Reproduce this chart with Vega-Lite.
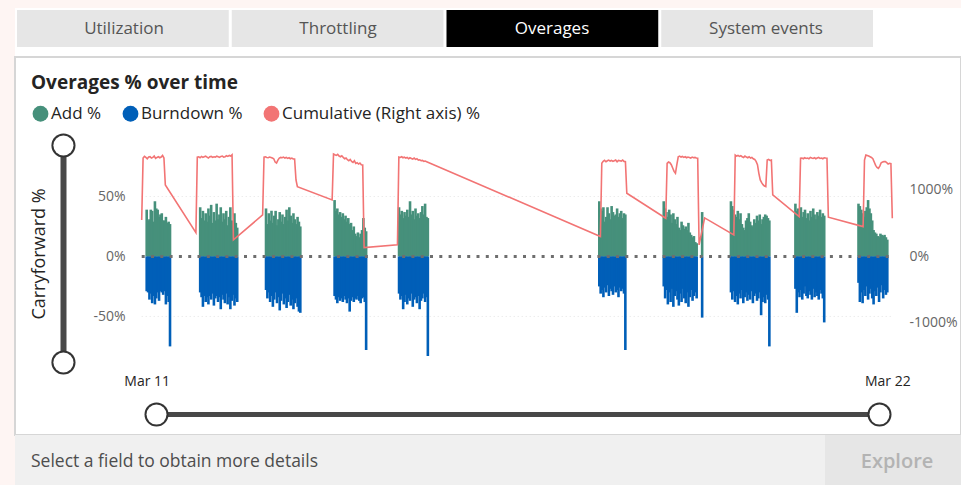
{
"$schema": "https://vega.github.io/schema/vega-lite/v6.json",
"background": "#fef5f3",
"padding": {"left": 15, "top": 8, "right": 0, "bottom": 0},
"config": {"view": {"stroke": null}, "font": "Open Sans"},
"width": 946, "height": 378,
"view": {"fill": "#ffffff", "stroke": "#d6d6d6", "strokeWidth": 2},
"resolve": {"scale": {"x": "independent", "y": "independent"}, "axis": {"x": "independent", "y": "independent"}},
"datasets": {"ov": [
{"t":"2019-03-11T10:30","Add %":39,"Burndown %":-29,"Cumulative %":549},
{"t":"2019-03-11T11:00","Add %":30,"Burndown %":-30,"Cumulative %":1480},
{"t":"2019-03-11T11:30","Add %":31,"Burndown %":-36,"Cumulative %":1505},
{"t":"2019-03-11T12:00","Add %":39,"Burndown %":-31,"Cumulative %":1490},
{"t":"2019-03-11T12:30","Add %":38,"Burndown %":-39,"Cumulative %":1470},
{"t":"2019-03-11T13:00","Add %":29,"Burndown %":-33,"Cumulative %":1495},
{"t":"2019-03-11T13:30","Add %":46,"Burndown %":-40,"Cumulative %":1500},
{"t":"2019-03-11T14:00","Add %":40,"Burndown %":-35,"Cumulative %":1480},
{"t":"2019-03-11T14:30","Add %":39,"Burndown %":-30,"Cumulative %":1490},
{"t":"2019-03-11T15:00","Add %":33,"Burndown %":-37,"Cumulative %":1510},
{"t":"2019-03-11T15:30","Add %":35,"Burndown %":-29,"Cumulative %":1475},
{"t":"2019-03-11T16:00","Add %":36,"Burndown %":-30,"Cumulative %":1490},
{"t":"2019-03-11T16:30","Add %":30,"Burndown %":-32,"Cumulative %":1500},
{"t":"2019-03-11T17:00","Add %":30,"Burndown %":-29,"Cumulative %":1485},
{"t":"2019-03-11T17:30","Add %":33,"Burndown %":-40,"Cumulative %":1495},
{"t":"2019-03-11T18:00","Add %":28,"Burndown %":-33,"Cumulative %":1520},
{"t":"2019-03-11T18:30","Add %":29,"Burndown %":-38,"Cumulative %":1481},
{"t":"2019-03-11T19:00","Add %":27,"Burndown %":-75,"Cumulative %":1075},
{"t":"2019-03-12T06:00","Add %":41,"Burndown %":-30,"Cumulative %":358},
{"t":"2019-03-12T06:30","Add %":32,"Burndown %":-34,"Cumulative %":1495},
{"t":"2019-03-12T07:00","Add %":38,"Burndown %":-42,"Cumulative %":1500},
{"t":"2019-03-12T07:30","Add %":30,"Burndown %":-33,"Cumulative %":1485},
{"t":"2019-03-12T08:00","Add %":36,"Burndown %":-38,"Cumulative %":1505},
{"t":"2019-03-12T08:30","Add %":29,"Burndown %":-34,"Cumulative %":1490},
{"t":"2019-03-12T09:00","Add %":40,"Burndown %":-40,"Cumulative %":1500},
{"t":"2019-03-12T09:30","Add %":34,"Burndown %":-33,"Cumulative %":1510},
{"t":"2019-03-12T10:00","Add %":43,"Burndown %":-36,"Cumulative %":1495},
{"t":"2019-03-12T10:30","Add %":28,"Burndown %":-31,"Cumulative %":1480},
{"t":"2019-03-12T11:00","Add %":37,"Burndown %":-41,"Cumulative %":1500},
{"t":"2019-03-12T11:30","Add %":30,"Burndown %":-35,"Cumulative %":1505},
{"t":"2019-03-12T12:00","Add %":44,"Burndown %":-33,"Cumulative %":1490},
{"t":"2019-03-12T12:30","Add %":31,"Burndown %":-38,"Cumulative %":1500},
{"t":"2019-03-12T13:00","Add %":35,"Burndown %":-34,"Cumulative %":1495},
{"t":"2019-03-12T13:30","Add %":41,"Burndown %":-44,"Cumulative %":1510},
{"t":"2019-03-12T14:00","Add %":29,"Burndown %":-32,"Cumulative %":1500},
{"t":"2019-03-12T14:30","Add %":36,"Burndown %":-36,"Cumulative %":1490},
{"t":"2019-03-12T15:00","Add %":31,"Burndown %":-39,"Cumulative %":1505},
{"t":"2019-03-12T15:30","Add %":38,"Burndown %":-31,"Cumulative %":1510},
{"t":"2019-03-12T16:00","Add %":26,"Burndown %":-40,"Cumulative %":1495},
{"t":"2019-03-12T16:30","Add %":33,"Burndown %":-34,"Cumulative %":1500},
{"t":"2019-03-12T17:00","Add %":41,"Burndown %":-44,"Cumulative %":1515},
{"t":"2019-03-12T17:30","Add %":30,"Burndown %":-37,"Cumulative %":1505},
{"t":"2019-03-12T18:00","Add %":25,"Burndown %":-32,"Cumulative %":1520},
{"t":"2019-03-12T18:30","Add %":36,"Burndown %":-41,"Cumulative %":1510},
{"t":"2019-03-12T19:00","Add %":28,"Burndown %":-35,"Cumulative %":1530},
{"t":"2019-03-12T19:30","Add %":24,"Burndown %":-38,"Cumulative %":248},
{"t":"2019-03-13T06:00","Add %":40,"Burndown %":-28,"Cumulative %":624},
{"t":"2019-03-13T06:30","Add %":27,"Burndown %":-35,"Cumulative %":1495},
{"t":"2019-03-13T07:00","Add %":36,"Burndown %":-30,"Cumulative %":1500},
{"t":"2019-03-13T07:30","Add %":30,"Burndown %":-38,"Cumulative %":1490},
{"t":"2019-03-13T08:00","Add %":38,"Burndown %":-33,"Cumulative %":1485},
{"t":"2019-03-13T08:30","Add %":28,"Burndown %":-42,"Cumulative %":1495},
{"t":"2019-03-13T09:00","Add %":34,"Burndown %":-36,"Cumulative %":1490},
{"t":"2019-03-13T09:30","Add %":38,"Burndown %":-30,"Cumulative %":1480},
{"t":"2019-03-13T10:00","Add %":26,"Burndown %":-39,"Cumulative %":1470},
{"t":"2019-03-13T10:30","Add %":31,"Burndown %":-34,"Cumulative %":1420},
{"t":"2019-03-13T11:00","Add %":37,"Burndown %":-45,"Cumulative %":1406},
{"t":"2019-03-13T11:30","Add %":29,"Burndown %":-37,"Cumulative %":1450},
{"t":"2019-03-13T12:00","Add %":35,"Burndown %":-31,"Cumulative %":1480},
{"t":"2019-03-13T12:30","Add %":27,"Burndown %":-40,"Cumulative %":1490},
{"t":"2019-03-13T13:00","Add %":33,"Burndown %":-35,"Cumulative %":1485},
{"t":"2019-03-13T13:30","Add %":39,"Burndown %":-43,"Cumulative %":1495},
{"t":"2019-03-13T14:00","Add %":30,"Burndown %":-38,"Cumulative %":1480},
{"t":"2019-03-13T14:30","Add %":41,"Burndown %":-32,"Cumulative %":1490},
{"t":"2019-03-13T15:00","Add %":34,"Burndown %":-41,"Cumulative %":1475},
{"t":"2019-03-13T15:30","Add %":28,"Burndown %":-36,"Cumulative %":1485},
{"t":"2019-03-13T16:00","Add %":36,"Burndown %":-44,"Cumulative %":1470},
{"t":"2019-03-13T16:30","Add %":31,"Burndown %":-39,"Cumulative %":1480},
{"t":"2019-03-13T17:00","Add %":27,"Burndown %":-35,"Cumulative %":1466},
{"t":"2019-03-13T17:30","Add %":33,"Burndown %":-42,"Cumulative %":1466},
{"t":"2019-03-13T18:00","Add %":29,"Burndown %":-46,"Cumulative %":1150},
{"t":"2019-03-13T18:30","Add %":25,"Burndown %":-47,"Cumulative %":1050},
{"t":"2019-03-14T07:00","Add %":47,"Burndown %":-33,"Cumulative %":850},
{"t":"2019-03-14T07:30","Add %":38,"Burndown %":-36,"Cumulative %":1541},
{"t":"2019-03-14T08:00","Add %":40,"Burndown %":-39,"Cumulative %":1530},
{"t":"2019-03-14T08:30","Add %":35,"Burndown %":-34,"Cumulative %":1520},
{"t":"2019-03-14T09:00","Add %":37,"Burndown %":-37,"Cumulative %":1535},
{"t":"2019-03-14T09:30","Add %":33,"Burndown %":-35,"Cumulative %":1510},
{"t":"2019-03-14T10:00","Add %":36,"Burndown %":-38,"Cumulative %":1500},
{"t":"2019-03-14T10:30","Add %":31,"Burndown %":-33,"Cumulative %":1515},
{"t":"2019-03-14T11:00","Add %":34,"Burndown %":-36,"Cumulative %":1490},
{"t":"2019-03-14T11:30","Add %":29,"Burndown %":-39,"Cumulative %":1470},
{"t":"2019-03-14T12:00","Add %":32,"Burndown %":-35,"Cumulative %":1480},
{"t":"2019-03-14T12:30","Add %":27,"Burndown %":-46,"Cumulative %":1455},
{"t":"2019-03-14T13:00","Add %":28,"Burndown %":-37,"Cumulative %":1440},
{"t":"2019-03-14T13:30","Add %":22,"Burndown %":-34,"Cumulative %":1460},
{"t":"2019-03-14T14:00","Add %":25,"Burndown %":-38,"Cumulative %":1430},
{"t":"2019-03-14T14:30","Add %":19,"Burndown %":-35,"Cumulative %":1415},
{"t":"2019-03-14T15:00","Add %":17,"Burndown %":-36,"Cumulative %":1440},
{"t":"2019-03-14T15:30","Add %":20,"Burndown %":-33,"Cumulative %":1400},
{"t":"2019-03-14T16:00","Add %":16,"Burndown %":-37,"Cumulative %":1410},
{"t":"2019-03-14T16:30","Add %":19,"Burndown %":-39,"Cumulative %":1390},
{"t":"2019-03-14T17:00","Add %":22,"Burndown %":-35,"Cumulative %":1405},
{"t":"2019-03-14T17:30","Add %":32,"Burndown %":-34,"Cumulative %":1380},
{"t":"2019-03-14T18:00","Add %":24,"Burndown %":-38,"Cumulative %":1376},
{"t":"2019-03-14T18:30","Add %":21,"Burndown %":-78,"Cumulative %":132},
{"t":"2019-03-15T06:30","Add %":41,"Burndown %":-31,"Cumulative %":173},
{"t":"2019-03-15T07:00","Add %":35,"Burndown %":-36,"Cumulative %":1496},
{"t":"2019-03-15T07:30","Add %":38,"Burndown %":-33,"Cumulative %":1490},
{"t":"2019-03-15T08:00","Add %":32,"Burndown %":-44,"Cumulative %":1500},
{"t":"2019-03-15T08:30","Add %":37,"Burndown %":-38,"Cumulative %":1485},
{"t":"2019-03-15T09:00","Add %":34,"Burndown %":-32,"Cumulative %":1495},
{"t":"2019-03-15T09:30","Add %":39,"Burndown %":-40,"Cumulative %":1480},
{"t":"2019-03-15T10:00","Add %":33,"Burndown %":-35,"Cumulative %":1490},
{"t":"2019-03-15T10:30","Add %":46,"Burndown %":-37,"Cumulative %":1470},
{"t":"2019-03-15T11:00","Add %":35,"Burndown %":-31,"Cumulative %":1485},
{"t":"2019-03-15T11:30","Add %":38,"Burndown %":-42,"Cumulative %":1475},
{"t":"2019-03-15T12:00","Add %":31,"Burndown %":-36,"Cumulative %":1465},
{"t":"2019-03-15T12:30","Add %":40,"Burndown %":-34,"Cumulative %":1480},
{"t":"2019-03-15T13:00","Add %":34,"Burndown %":-39,"Cumulative %":1460},
{"t":"2019-03-15T13:30","Add %":36,"Burndown %":-33,"Cumulative %":1470},
{"t":"2019-03-15T14:00","Add %":32,"Burndown %":-44,"Cumulative %":1450},
{"t":"2019-03-15T14:30","Add %":37,"Burndown %":-37,"Cumulative %":1455},
{"t":"2019-03-15T15:00","Add %":42,"Burndown %":-35,"Cumulative %":1440},
{"t":"2019-03-15T15:30","Add %":35,"Burndown %":-31,"Cumulative %":1445},
{"t":"2019-03-15T16:00","Add %":44,"Burndown %":-38,"Cumulative %":1430},
{"t":"2019-03-15T16:30","Add %":33,"Burndown %":-34,"Cumulative %":1435},
{"t":"2019-03-15T17:00","Add %":32,"Burndown %":-83,"Cumulative %":1426},
{"t":"2019-03-18T07:30","Add %":46,"Burndown %":-25,"Cumulative %":298},
{"t":"2019-03-18T08:00","Add %":40,"Burndown %":-31,"Cumulative %":1401},
{"t":"2019-03-18T08:30","Add %":38,"Burndown %":-28,"Cumulative %":1430},
{"t":"2019-03-18T09:00","Add %":41,"Burndown %":-34,"Cumulative %":1445},
{"t":"2019-03-18T09:30","Add %":29,"Burndown %":-26,"Cumulative %":1425},
{"t":"2019-03-18T10:00","Add %":33,"Burndown %":-30,"Cumulative %":1440},
{"t":"2019-03-18T10:30","Add %":41,"Burndown %":-24,"Cumulative %":1450},
{"t":"2019-03-18T11:00","Add %":36,"Burndown %":-33,"Cumulative %":1435},
{"t":"2019-03-18T11:30","Add %":31,"Burndown %":-27,"Cumulative %":1445},
{"t":"2019-03-18T12:00","Add %":42,"Burndown %":-29,"Cumulative %":1430},
{"t":"2019-03-18T12:30","Add %":37,"Burndown %":-32,"Cumulative %":1440},
{"t":"2019-03-18T13:00","Add %":34,"Burndown %":-25,"Cumulative %":1450},
{"t":"2019-03-18T13:30","Add %":35,"Burndown %":-30,"Cumulative %":1425},
{"t":"2019-03-18T14:00","Add %":40,"Burndown %":-28,"Cumulative %":1445},
{"t":"2019-03-18T14:30","Add %":33,"Burndown %":-34,"Cumulative %":1440},
{"t":"2019-03-18T15:00","Add %":36,"Burndown %":-26,"Cumulative %":1435},
{"t":"2019-03-18T15:30","Add %":38,"Burndown %":-29,"Cumulative %":1450},
{"t":"2019-03-18T16:00","Add %":32,"Burndown %":-27,"Cumulative %":1430},
{"t":"2019-03-18T16:30","Add %":36,"Burndown %":-31,"Cumulative %":1426},
{"t":"2019-03-18T17:00","Add %":35,"Burndown %":-78,"Cumulative %":950},
{"t":"2019-03-19T07:00","Add %":46,"Burndown %":-25,"Cumulative %":574},
{"t":"2019-03-19T07:30","Add %":40,"Burndown %":-35,"Cumulative %":1401},
{"t":"2019-03-19T08:00","Add %":37,"Burndown %":-28,"Cumulative %":1420},
{"t":"2019-03-19T08:30","Add %":33,"Burndown %":-40,"Cumulative %":1410},
{"t":"2019-03-19T09:00","Add %":39,"Burndown %":-30,"Cumulative %":1380},
{"t":"2019-03-19T09:30","Add %":35,"Burndown %":-38,"Cumulative %":1330},
{"t":"2019-03-19T10:00","Add %":28,"Burndown %":-27,"Cumulative %":1280},
{"t":"2019-03-19T10:30","Add %":36,"Burndown %":-42,"Cumulative %":1251},
{"t":"2019-03-19T11:00","Add %":31,"Burndown %":-33,"Cumulative %":1380},
{"t":"2019-03-19T11:30","Add %":27,"Burndown %":-29,"Cumulative %":1500},
{"t":"2019-03-19T12:00","Add %":33,"Burndown %":-36,"Cumulative %":1510},
{"t":"2019-03-19T12:30","Add %":24,"Burndown %":-41,"Cumulative %":1495},
{"t":"2019-03-19T13:00","Add %":22,"Burndown %":-31,"Cumulative %":1505},
{"t":"2019-03-19T13:30","Add %":29,"Burndown %":-38,"Cumulative %":1490},
{"t":"2019-03-19T14:00","Add %":26,"Burndown %":-27,"Cumulative %":1500},
{"t":"2019-03-19T14:30","Add %":23,"Burndown %":-35,"Cumulative %":1485},
{"t":"2019-03-19T15:00","Add %":25,"Burndown %":-39,"Cumulative %":1495},
{"t":"2019-03-19T15:30","Add %":22,"Burndown %":-30,"Cumulative %":1490},
{"t":"2019-03-19T16:00","Add %":28,"Burndown %":-42,"Cumulative %":1480},
{"t":"2019-03-19T16:30","Add %":20,"Burndown %":-34,"Cumulative %":1495},
{"t":"2019-03-19T17:00","Add %":18,"Burndown %":-28,"Cumulative %":1485},
{"t":"2019-03-19T17:30","Add %":16,"Burndown %":-37,"Cumulative %":1490},
{"t":"2019-03-19T18:00","Add %":17,"Burndown %":-33,"Cumulative %":1480},
{"t":"2019-03-19T18:30","Add %":12,"Burndown %":-30,"Cumulative %":1477},
{"t":"2019-03-19T19:00","Add %":11,"Burndown %":-35,"Cumulative %":173},
{"t":"2019-03-19T21:00","Add %":37,"Burndown %":-51,"Cumulative %":579},
{"t":"2019-03-20T07:30","Add %":46,"Burndown %":-30,"Cumulative %":323},
{"t":"2019-03-20T08:00","Add %":42,"Burndown %":-36,"Cumulative %":1526},
{"t":"2019-03-20T08:30","Add %":39,"Burndown %":-29,"Cumulative %":1510},
{"t":"2019-03-20T09:00","Add %":35,"Burndown %":-38,"Cumulative %":1520},
{"t":"2019-03-20T09:30","Add %":33,"Burndown %":-33,"Cumulative %":1505},
{"t":"2019-03-20T10:00","Add %":38,"Burndown %":-40,"Cumulative %":1515},
{"t":"2019-03-20T10:30","Add %":31,"Burndown %":-31,"Cumulative %":1500},
{"t":"2019-03-20T11:00","Add %":36,"Burndown %":-35,"Cumulative %":1490},
{"t":"2019-03-20T11:30","Add %":27,"Burndown %":-28,"Cumulative %":1510},
{"t":"2019-03-20T12:00","Add %":24,"Burndown %":-39,"Cumulative %":1495},
{"t":"2019-03-20T12:30","Add %":22,"Burndown %":-34,"Cumulative %":1485},
{"t":"2019-03-20T13:00","Add %":30,"Burndown %":-30,"Cumulative %":1500},
{"t":"2019-03-20T13:30","Add %":32,"Burndown %":-37,"Cumulative %":1480},
{"t":"2019-03-20T14:00","Add %":36,"Burndown %":-32,"Cumulative %":1490},
{"t":"2019-03-20T14:30","Add %":29,"Burndown %":-36,"Cumulative %":1470},
{"t":"2019-03-20T15:00","Add %":26,"Burndown %":-29,"Cumulative %":1460},
{"t":"2019-03-20T15:30","Add %":25,"Burndown %":-39,"Cumulative %":1430},
{"t":"2019-03-20T16:00","Add %":31,"Burndown %":-33,"Cumulative %":1380},
{"t":"2019-03-20T16:30","Add %":28,"Burndown %":-31,"Cumulative %":1250},
{"t":"2019-03-20T17:00","Add %":34,"Burndown %":-37,"Cumulative %":1150},
{"t":"2019-03-20T17:30","Add %":30,"Burndown %":-35,"Cumulative %":1110},
{"t":"2019-03-20T18:00","Add %":35,"Burndown %":-30,"Cumulative %":1080},
{"t":"2019-03-20T18:30","Add %":27,"Burndown %":-49,"Cumulative %":1060},
{"t":"2019-03-20T19:00","Add %":31,"Burndown %":-38,"Cumulative %":1050},
{"t":"2019-03-20T19:30","Add %":33,"Burndown %":-34,"Cumulative %":1451},
{"t":"2019-03-20T20:00","Add %":35,"Burndown %":-39,"Cumulative %":1460},
{"t":"2019-03-20T20:30","Add %":34,"Burndown %":-32,"Cumulative %":1445},
{"t":"2019-03-20T21:00","Add %":32,"Burndown %":-36,"Cumulative %":1451},
{"t":"2019-03-20T21:30","Add %":30,"Burndown %":-75,"Cumulative %":925},
{"t":"2019-03-21T07:00","Add %":44,"Burndown %":-27,"Cumulative %":598},
{"t":"2019-03-21T07:30","Add %":38,"Burndown %":-47,"Cumulative %":1477},
{"t":"2019-03-21T08:00","Add %":40,"Burndown %":-30,"Cumulative %":1480},
{"t":"2019-03-21T08:30","Add %":35,"Burndown %":-34,"Cumulative %":1470},
{"t":"2019-03-21T09:00","Add %":41,"Burndown %":-28,"Cumulative %":1485},
{"t":"2019-03-21T09:30","Add %":33,"Burndown %":-36,"Cumulative %":1475},
{"t":"2019-03-21T10:00","Add %":37,"Burndown %":-31,"Cumulative %":1480},
{"t":"2019-03-21T10:30","Add %":39,"Burndown %":-25,"Cumulative %":1470},
{"t":"2019-03-21T11:00","Add %":32,"Burndown %":-33,"Cumulative %":1490},
{"t":"2019-03-21T11:30","Add %":36,"Burndown %":-35,"Cumulative %":1480},
{"t":"2019-03-21T12:00","Add %":30,"Burndown %":-29,"Cumulative %":1475},
{"t":"2019-03-21T12:30","Add %":38,"Burndown %":-32,"Cumulative %":1485},
{"t":"2019-03-21T13:00","Add %":33,"Burndown %":-36,"Cumulative %":1470},
{"t":"2019-03-21T13:30","Add %":40,"Burndown %":-27,"Cumulative %":1480},
{"t":"2019-03-21T14:00","Add %":35,"Burndown %":-34,"Cumulative %":1490},
{"t":"2019-03-21T14:30","Add %":31,"Burndown %":-30,"Cumulative %":1475},
{"t":"2019-03-21T15:00","Add %":37,"Burndown %":-33,"Cumulative %":1480},
{"t":"2019-03-21T15:30","Add %":34,"Burndown %":-36,"Cumulative %":1470},
{"t":"2019-03-21T16:00","Add %":39,"Burndown %":-28,"Cumulative %":1485},
{"t":"2019-03-21T16:30","Add %":33,"Burndown %":-31,"Cumulative %":1480},
{"t":"2019-03-21T17:00","Add %":36,"Burndown %":-35,"Cumulative %":1477},
{"t":"2019-03-21T17:30","Add %":34,"Burndown %":-55,"Cumulative %":589},
{"t":"2019-03-22T06:00","Add %":44,"Burndown %":-22,"Cumulative %":448},
{"t":"2019-03-22T06:30","Add %":42,"Burndown %":-38,"Cumulative %":1450},
{"t":"2019-03-22T07:00","Add %":39,"Burndown %":-30,"Cumulative %":1526},
{"t":"2019-03-22T07:30","Add %":36,"Burndown %":-39,"Cumulative %":1520},
{"t":"2019-03-22T08:00","Add %":33,"Burndown %":-28,"Cumulative %":1510},
{"t":"2019-03-22T08:30","Add %":38,"Burndown %":-33,"Cumulative %":1500},
{"t":"2019-03-22T09:00","Add %":41,"Burndown %":-25,"Cumulative %":1490},
{"t":"2019-03-22T09:30","Add %":47,"Burndown %":-36,"Cumulative %":1470},
{"t":"2019-03-22T10:00","Add %":40,"Burndown %":-31,"Cumulative %":1420},
{"t":"2019-03-22T10:30","Add %":36,"Burndown %":-27,"Cumulative %":1370},
{"t":"2019-03-22T11:00","Add %":30,"Burndown %":-35,"Cumulative %":1340},
{"t":"2019-03-22T11:30","Add %":22,"Burndown %":-40,"Cumulative %":1326},
{"t":"2019-03-22T12:00","Add %":20,"Burndown %":-29,"Cumulative %":1360},
{"t":"2019-03-22T12:30","Add %":19,"Burndown %":-33,"Cumulative %":1410},
{"t":"2019-03-22T13:00","Add %":17,"Burndown %":-26,"Cumulative %":1420},
{"t":"2019-03-22T13:30","Add %":16,"Burndown %":-38,"Cumulative %":1426},
{"t":"2019-03-22T14:00","Add %":19,"Burndown %":-30,"Cumulative %":1426},
{"t":"2019-03-22T14:30","Add %":18,"Burndown %":-24,"Cumulative %":1410},
{"t":"2019-03-22T15:00","Add %":17,"Burndown %":-35,"Cumulative %":1390},
{"t":"2019-03-22T15:30","Add %":18,"Burndown %":-28,"Cumulative %":1401},
{"t":"2019-03-22T16:00","Add %":16,"Burndown %":-32,"Cumulative %":1395},
{"t":"2019-03-22T16:30","Add %":14,"Burndown %":-30,"Cumulative %":574}
]},
"layer": [
    {
      "data": {"values": [{"strip": "header"}]},
      "mark": {"type": "bar", "color": "#ffffff"},
      "encoding": {
        "x": {"field": "strip", "type": "nominal", "axis": null, "scale": {"range": [0, 946], "paddingInner": 0, "paddingOuter": 0}},
        "y": {"field": "strip", "type": "nominal", "axis": null, "scale": {"range": [-49, -1], "paddingInner": 0, "paddingOuter": 0}}
      }
    },
    {
      "data": {"values": [{"tab": "Utilization"}, {"tab": "Throttling"}, {"tab": "Overages"}, {"tab": "System events"}]},
      "mark": {"type": "bar"},
      "encoding": {
        "x": {"field": "tab", "type": "nominal", "sort": null, "axis": null, "scale": {"range": [2, 858], "paddingInner": 0.014, "paddingOuter": 0}},
        "y": {"datum": "tabs", "type": "nominal", "axis": null, "scale": {"range": [-47, -10], "paddingInner": 0, "paddingOuter": 0}},
        "color": {"condition": {"test": "datum.tab === 'Overages'", "value": "#000000"}, "value": "#e6e6e6"}
      }
    },
    {
      "data": {"values": [{"tab": "Utilization"}, {"tab": "Throttling"}, {"tab": "Overages"}, {"tab": "System events"}]},
      "mark": {"type": "text", "fontSize": 17, "baseline": "middle"},
      "encoding": {
        "x": {"field": "tab", "type": "nominal", "sort": null, "axis": null, "scale": {"range": [2, 858], "paddingInner": 0.014, "paddingOuter": 0}},
        "y": {"datum": "tabs", "type": "nominal", "axis": null, "scale": {"range": [-47, -10], "paddingInner": 0, "paddingOuter": 0}},
        "text": {"field": "tab"},
        "color": {"condition": {"test": "datum.tab === 'Overages'", "value": "#ffffff"}, "value": "#555555"}
      }
    },
    {
      "data": {"values": [{"strip": "footer"}]},
      "mark": {"type": "bar", "color": "#f0f0f0"},
      "encoding": {
        "x": {"field": "strip", "type": "nominal", "axis": null, "scale": {"range": [0, 946], "paddingInner": 0, "paddingOuter": 0}},
        "y": {"field": "strip", "type": "nominal", "axis": null, "scale": {"range": [378, 428], "paddingInner": 0, "paddingOuter": 0}}
      }
    },
    {
      "data": {"values": [{"button": "Explore"}]},
      "mark": {"type": "bar", "color": "#e6e6e6"},
      "encoding": {
        "x": {"field": "button", "type": "nominal", "axis": null, "scale": {"range": [810, 946], "paddingInner": 0, "paddingOuter": 0}},
        "y": {"field": "button", "type": "nominal", "axis": null, "scale": {"range": [378, 428], "paddingInner": 0, "paddingOuter": 0}}
      }
    },
    {
      "data": {"values": [{"button": "Explore"}]},
      "mark": {"type": "text", "baseline": "middle", "dx": 4, "dy": 2, "fontSize": 20, "fontWeight": 600, "color": "#b3b3b3"},
      "encoding": {
        "x": {"field": "button", "type": "nominal", "axis": null, "scale": {"range": [810, 946], "paddingInner": 0, "paddingOuter": 0}},
        "y": {"field": "button", "type": "nominal", "axis": null, "scale": {"range": [378, 428], "paddingInner": 0, "paddingOuter": 0}},
        "text": {"field": "button"}
      }
    },
    {
      "data": {"values": [{"msg": "Select a field to obtain more details"}]},
      "mark": {"type": "text", "align": "left", "baseline": "middle", "dy": 2, "fontSize": 17.5, "color": "#4d4d4d"},
      "encoding": {
        "x": {"field": "msg", "type": "nominal", "axis": null, "scale": {"range": [16, 16], "paddingInner": 0, "paddingOuter": 0}},
        "y": {"field": "msg", "type": "nominal", "axis": null, "scale": {"range": [378, 428], "paddingInner": 0, "paddingOuter": 0}},
        "text": {"field": "msg"}
      }
    },
    {
      "data": {"values": [{"title": "Overages % over time"}]},
      "mark": {"type": "text", "align": "left", "baseline": "alphabetic", "fontSize": 19, "fontWeight": "bold", "color": "#252423"},
      "encoding": {
        "x": {"field": "title", "type": "nominal", "axis": null, "scale": {"range": [16, 16], "paddingInner": 0, "paddingOuter": 0}},
        "y": {"field": "title", "type": "nominal", "axis": null, "scale": {"range": [20, 43], "paddingInner": 0, "paddingOuter": 0}},
        "text": {"field": "title"}
      }
    },
    {
      "data": {"values": [{"grid": 50}, {"grid": -50}]},
      "mark": {"type": "rule", "color": "#e3e3e3", "strokeDash": [1, 3], "strokeWidth": 1},
      "encoding": {
        "x": {"datum": {"year": 2019, "month": 3, "date": 11, "hours": 10, "minutes": 30}, "type": "temporal", "axis": null, "scale": {"domain": [{"year": 2019, "month": 3, "date": 11, "hours": 10, "minutes": 30}, {"year": 2019, "month": 3, "date": 22, "hours": 16, "minutes": 30}], "range": [126.7, 877.3]}},
        "x2": {"datum": {"year": 2019, "month": 3, "date": 22, "hours": 16, "minutes": 30}},
        "y": {"field": "grid", "type": "quantitative", "axis": null, "scale": {"domain": [-88, 92.9], "range": [305, 88]}}
      }
    },
    {
      "data": {"name": "ov"},
      "transform": [{"fold": ["Add %", "Burndown %"], "as": ["series", "value"]}],
      "mark": {"type": "bar", "width": 2.6},
      "encoding": {
        "x": {"field": "t", "type": "temporal",
          "scale": {"domain": [{"year": 2019, "month": 3, "date": 11, "hours": 10, "minutes": 30}, {"year": 2019, "month": 3, "date": 22, "hours": 16, "minutes": 30}], "range": [126.7, 877.3]},
          "axis": {"orient": "bottom", "offset": -62, "values": [{"year": 2019, "month": 3, "date": 11, "hours": 10, "minutes": 30}, {"year": 2019, "month": 3, "date": 22, "hours": 16, "minutes": 30}], "format": "%b %d", "domain": false, "ticks": false, "tickSize": 0, "grid": false, "labelPadding": 8, "labelBaseline": "middle", "labelFlush": false, "labelOverlap": false, "labelFontSize": 14, "labelColor": "#252423", "title": null}},
        "y": {"field": "value", "type": "quantitative",
          "scale": {"domain": [-88, 92.9], "range": [305, 88]},
          "axis": {"orient": "left", "offset": -126, "values": [-50, 0, 50], "labelExpr": "datum.value + '%'", "domain": false, "ticks": false, "tickSize": 0, "grid": false, "labelPadding": 16, "labelFontSize": 14, "labelColor": "#666666", "title": null}},
        "color": {"field": "series", "type": "nominal",
          "scale": {"domain": ["Add %", "Burndown %", "Cumulative (Right axis) %"], "range": ["#46907b", "#005fb8", "#f27474"]},
          "legend": {"orient": "none", "legendX": 17, "legendY": 48, "direction": "horizontal", "title": null, "padding": 0, "symbolType": "circle", "symbolSize": 250, "symbolStrokeWidth": 0, "symbolOpacity": 1, "labelFontSize": 17, "labelColor": "#252423", "labelLimit": 400, "columnPadding": 20, "labelOffset": 2}}
      }
    },
    {
      "data": {"values": [{}]},
      "mark": {"type": "rule", "color": "#6e6e6e", "strokeWidth": 3, "strokeDash": [3, 6.3]},
      "encoding": {
        "x": {"datum": {"year": 2019, "month": 3, "date": 11, "hours": 10, "minutes": 30}, "type": "temporal", "axis": null, "scale": {"domain": [{"year": 2019, "month": 3, "date": 11, "hours": 10, "minutes": 30}, {"year": 2019, "month": 3, "date": 22, "hours": 16, "minutes": 30}], "range": [126.7, 877.3]}},
        "x2": {"datum": {"year": 2019, "month": 3, "date": 22, "hours": 16, "minutes": 30}},
        "y": {"datum": 0, "type": "quantitative", "axis": null, "scale": {"domain": [-88, 92.9], "range": [305, 88]}}
      }
    },
    {
      "data": {"name": "ov"},
      "mark": {"type": "line", "color": "#f27474", "strokeWidth": 1.6},
      "encoding": {
        "x": {"field": "t", "type": "temporal", "axis": null, "scale": {"domain": [{"year": 2019, "month": 3, "date": 11, "hours": 10, "minutes": 30}, {"year": 2019, "month": 3, "date": 22, "hours": 16, "minutes": 30}], "range": [126.7, 877.3]}},
        "y": {"field": "Cumulative %", "type": "quantitative",
          "scale": {"domain": [-1591, 1677], "range": [305, 88]},
          "axis": {"orient": "right", "offset": -68, "values": [-1000, 0, 1000], "labelExpr": "datum.value + '%'", "domain": false, "ticks": false, "tickSize": 0, "grid": false, "labelPadding": 16, "labelFontSize": 14, "labelColor": "#666666", "title": null}}
      }
    },
    {
      "data": {"values": [{"bound": -88}, {"bound": 92.9}]},
      "mark": {"type": "point", "opacity": 0},
      "encoding": {
        "x": {"datum": {"year": 2019, "month": 3, "date": 11, "hours": 10, "minutes": 30}, "type": "temporal", "axis": null, "scale": {"domain": [{"year": 2019, "month": 3, "date": 11, "hours": 10, "minutes": 30}, {"year": 2019, "month": 3, "date": 22, "hours": 16, "minutes": 30}], "range": [126.7, 877.3]}},
        "y": {"field": "bound", "type": "quantitative", "scale": {"domain": [-88, 92.9], "range": [305, 88]},
          "axis": {"orient": "left", "offset": -48, "domain": true, "domainColor": "#484848", "domainWidth": 6, "ticks": false, "labels": false, "grid": false, "title": "Carryforward %", "titleFontSize": 18, "titleFontWeight": "normal", "titleColor": "#252423", "titlePadding": 15, "minExtent": 0, "maxExtent": 200}}
      }
    },
    {
      "data": {"values": [{"bound": -88}, {"bound": 92.9}]},
      "mark": {"type": "point", "opacity": 0},
      "encoding": {
        "x": {"datum": {"year": 2019, "month": 3, "date": 11, "hours": 10, "minutes": 30}, "type": "temporal", "axis": null, "scale": {"domain": [{"year": 2019, "month": 3, "date": 11, "hours": 10, "minutes": 30}, {"year": 2019, "month": 3, "date": 22, "hours": 16, "minutes": 30}], "range": [126.7, 877.3]}},
        "y": {"field": "bound", "type": "quantitative", "scale": {"domain": [-88, 92.9], "range": [305, 88]},
          "axis": {"orient": "left", "offset": -48, "values": [-88, 92.9], "domain": false, "ticks": true, "tickSize": 0.1, "tickWidth": 24, "tickCap": "round", "tickColor": "#333333", "labels": false, "grid": false, "title": null, "zindex": 1}}
      }
    },
    {
      "data": {"values": [{"bound": -88}, {"bound": 92.9}]},
      "mark": {"type": "point", "opacity": 0},
      "encoding": {
        "x": {"datum": {"year": 2019, "month": 3, "date": 11, "hours": 10, "minutes": 30}, "type": "temporal", "axis": null, "scale": {"domain": [{"year": 2019, "month": 3, "date": 11, "hours": 10, "minutes": 30}, {"year": 2019, "month": 3, "date": 22, "hours": 16, "minutes": 30}], "range": [126.7, 877.3]}},
        "y": {"field": "bound", "type": "quantitative", "scale": {"domain": [-88, 92.9], "range": [305, 88]},
          "axis": {"orient": "left", "offset": -48, "values": [-88, 92.9], "domain": false, "ticks": true, "tickSize": 0.1, "tickWidth": 20, "tickCap": "round", "tickColor": "#ffffff", "labels": false, "grid": false, "title": null, "zindex": 2}}
      }
    },
    {
      "data": {"values": [{"handle": "2019-03-11T10:30"}, {"handle": "2019-03-22T16:30"}]},
      "mark": {"type": "point", "opacity": 0},
      "encoding": {
        "x": {"field": "handle", "type": "temporal", "scale": {"domain": [{"year": 2019, "month": 3, "date": 11, "hours": 10, "minutes": 30}, {"year": 2019, "month": 3, "date": 22, "hours": 16, "minutes": 30}], "range": [141, 864]},
          "axis": {"orient": "bottom", "offset": -21, "domain": true, "domainColor": "#484848", "domainWidth": 5, "ticks": false, "labels": false, "grid": false, "title": null}},
        "y": {"datum": 0, "type": "quantitative", "axis": null, "scale": {"domain": [-88, 92.9], "range": [305, 88]}}
      }
    },
    {
      "data": {"values": [{"handle": "2019-03-11T10:30"}, {"handle": "2019-03-22T16:30"}]},
      "mark": {"type": "point", "opacity": 0},
      "encoding": {
        "x": {"field": "handle", "type": "temporal", "scale": {"domain": [{"year": 2019, "month": 3, "date": 11, "hours": 10, "minutes": 30}, {"year": 2019, "month": 3, "date": 22, "hours": 16, "minutes": 30}], "range": [141, 864]},
          "axis": {"orient": "bottom", "offset": -21, "values": [{"year": 2019, "month": 3, "date": 11, "hours": 10, "minutes": 30}, {"year": 2019, "month": 3, "date": 22, "hours": 16, "minutes": 30}], "domain": false, "ticks": true, "tickSize": 0.1, "tickWidth": 24, "tickCap": "round", "tickColor": "#333333", "labels": false, "grid": false, "title": null, "zindex": 1}},
        "y": {"datum": 0, "type": "quantitative", "axis": null, "scale": {"domain": [-88, 92.9], "range": [305, 88]}}
      }
    },
    {
      "data": {"values": [{"handle": "2019-03-11T10:30"}, {"handle": "2019-03-22T16:30"}]},
      "mark": {"type": "point", "opacity": 0},
      "encoding": {
        "x": {"field": "handle", "type": "temporal", "scale": {"domain": [{"year": 2019, "month": 3, "date": 11, "hours": 10, "minutes": 30}, {"year": 2019, "month": 3, "date": 22, "hours": 16, "minutes": 30}], "range": [141, 864]},
          "axis": {"orient": "bottom", "offset": -21, "values": [{"year": 2019, "month": 3, "date": 11, "hours": 10, "minutes": 30}, {"year": 2019, "month": 3, "date": 22, "hours": 16, "minutes": 30}], "domain": false, "ticks": true, "tickSize": 0.1, "tickWidth": 20, "tickCap": "round", "tickColor": "#ffffff", "labels": false, "grid": false, "title": null, "zindex": 2}},
        "y": {"datum": 0, "type": "quantitative", "axis": null, "scale": {"domain": [-88, 92.9], "range": [305, 88]}}
      }
    }
]
}
